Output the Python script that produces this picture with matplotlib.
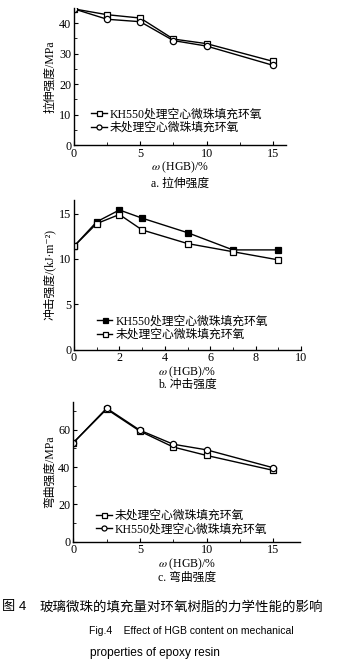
import matplotlib
matplotlib.use("Agg")
import matplotlib.pyplot as plt
from matplotlib.ticker import MultipleLocator

plt.rcParams["font.family"] = ["Liberation Serif", "Noto Sans CJK SC", "DejaVu Sans"]
plt.rcParams["mathtext.fontset"] = "stix"
plt.rcParams["font.size"] = 8.5

# (a) tensile strength, MPa
x_a = [0, 2.5, 5, 7.5, 10, 15]
tensile_kh550 = [44.7, 42.8, 41.7, 34.8, 33.3, 27.5]
tensile_untreated = [44.7, 41.3, 40.5, 34.3, 32.5, 26.2]

# (b) impact strength, kJ/m2
x_b = [0, 1, 2, 3, 5, 7, 9]
impact_kh550 = [11.4, 14.1, 15.4, 14.5, 12.9, 11.0, 11.0]
impact_untreated = [11.4, 13.9, 14.9, 13.2, 11.7, 10.8, 9.9]

# (c) flexural strength, MPa
x_c = [0, 2.5, 5, 7.5, 10, 15]
flex_untreated = [53.0, 71.0, 59.2, 50.7, 46.2, 38.2]
flex_kh550 = [53.0, 71.5, 59.7, 52.2, 49.2, 39.6]

LBL_KH = "KH550处理空心微珠填充环氧"
LBL_UN = "未处理空心微珠填充环氧"
XLABEL = r"$\omega$ (HGB)/%"

W, H = 339, 660
fig = plt.figure(figsize=(W / 100, H / 100), dpi=100)


def px_axes(left, top, right, bottom):
    return fig.add_axes([left / W, 1 - bottom / H, (right - left) / W, (bottom - top) / H])


def style(ax):
    for side in ("top", "right"):
        ax.spines[side].set_visible(False)
    for side in ("left", "bottom"):
        ax.spines[side].set_linewidth(1.0)
    ax.tick_params(direction="in", length=3, width=0.8, labelsize=8.7, pad=2)
    ax.tick_params(which="minor", direction="in", length=2, width=0.6)


def legend(ax, anchor):
    ax.legend(loc="upper left", bbox_to_anchor=anchor, frameon=False,
              handlelength=1.3, handletextpad=0.25, labelspacing=0.1,
              borderaxespad=0, markerscale=0.8)


common = dict(color="black", lw=1.0, ms=4.5, mew=0.9)

# panel a
ax = px_axes(74, 8, 286, 145)
ax.plot(x_a, tensile_kh550, marker="s", mfc="white", label=LBL_KH, **common)
ax.plot(x_a, tensile_untreated, marker="o", mfc="white", label=LBL_UN, **common)
ax.set_xlim(0, 16)
ax.set_ylim(0, 45)
ax.xaxis.set_major_locator(MultipleLocator(5))
ax.xaxis.set_minor_locator(MultipleLocator(2.5))
ax.yaxis.set_major_locator(MultipleLocator(10))
ax.yaxis.set_minor_locator(MultipleLocator(5))
style(ax)
ax.set_ylabel("拉伸强度/MPa", labelpad=2)
ax.set_xlabel(XLABEL, labelpad=0)
legend(ax, (0.06, 0.30))
fig.text(180 / W, 1 - 184 / H, "a. 拉伸强度", ha="center", va="center")

# panel b
ax = px_axes(74, 200, 301, 349.7)
ax.plot(x_b, impact_kh550, marker="s", mfc="black", label=LBL_KH, **common)
ax.plot(x_b, impact_untreated, marker="s", mfc="white", label=LBL_UN, **common)
ax.set_xlim(0, 10)
ax.set_ylim(0, 16.5)
ax.xaxis.set_major_locator(MultipleLocator(2))
ax.xaxis.set_minor_locator(MultipleLocator(1))
ax.yaxis.set_major_locator(MultipleLocator(5))
style(ax)
ax.set_ylabel("冲击强度/(kJ·m⁻²)", labelpad=2)
ax.set_xlabel(XLABEL, labelpad=0)
legend(ax, (0.08, 0.26))
fig.text(187 / W, 1 - 385 / H, "b. 冲击强度", ha="center", va="center")

# panel c
ax = px_axes(73.3, 401.7, 300, 541.7)
ax.plot(x_c, flex_untreated, marker="s", mfc="white", label=LBL_UN, **common)
ax.plot(x_c, flex_kh550, marker="o", mfc="white", label=LBL_KH, **common)
ax.set_xlim(0, 17)
ax.set_ylim(0, 75)
ax.xaxis.set_major_locator(MultipleLocator(5))
ax.xaxis.set_minor_locator(MultipleLocator(2.5))
ax.yaxis.set_major_locator(MultipleLocator(20))
ax.yaxis.set_minor_locator(MultipleLocator(10))
style(ax)
ax.set_ylabel("弯曲强度/MPa", labelpad=2)
ax.set_xlabel(XLABEL, labelpad=0)
legend(ax, (0.08, 0.26))
fig.text(187 / W, 1 - 578 / H, "c. 弯曲强度", ha="center", va="center")

# caption
cap_font = ["Liberation Sans", "Noto Sans CJK SC"]
fig.text(2 / W, 1 - 607 / H, "图 4", ha="left", va="center", family=cap_font, fontsize=9.5)
fig.text(323 / W, 1 - 607 / H, "玻璃微珠的填充量对环氧树脂的力学性能的影响",
         ha="right", va="center", family=cap_font, fontsize=9.7)
fig.text(89 / W, 1 - 631 / H, "Fig.4    Effect of HGB content on mechanical",
         ha="left", va="center", family=cap_font, fontsize=7.5)
fig.text(90 / W, 1 - 653 / H, "properties of epoxy resin",
         ha="left", va="center", family=cap_font, fontsize=8.6)

fig.savefig("out.png", dpi=100)
